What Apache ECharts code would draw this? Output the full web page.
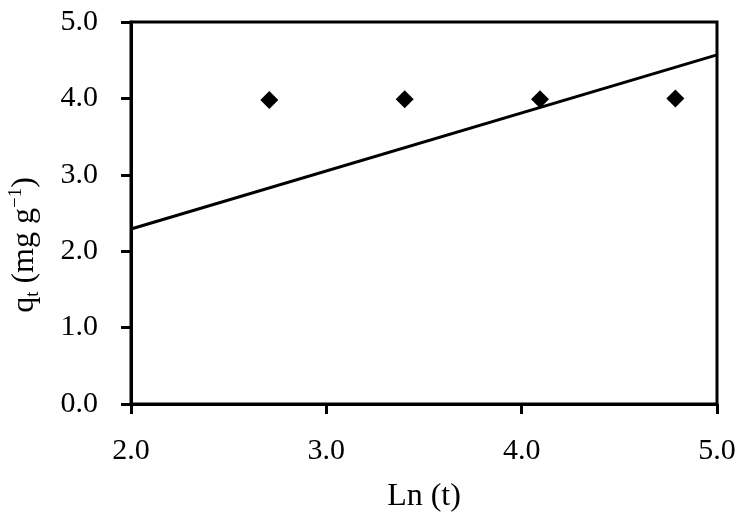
<!DOCTYPE html>
<html><head><meta charset="utf-8">
<script src="https://cdn.jsdelivr.net/npm/echarts@6/dist/echarts.min.js"></script>
<style>html,body{margin:0;padding:0;background:#fff}#c{width:744px;height:519px}</style>
</head><body><div id="c"></div>
<script>
var lnT = [2.708, 3.401, 4.094, 4.787];
var qt = [3.98, 3.99, 3.99, 4.00];
var fitX = [2.0, 5.0];
var fitY = [2.29, 4.57];

var chart = echarts.init(document.getElementById('c'));
var ff = '"Liberation Serif","DejaVu Serif",serif';
chart.setOption({
  animation: false,
  backgroundColor: '#fff',
  grid: {left: 131, right: 27, top: 22, bottom: 115, show: true, borderColor: '#000', borderWidth: 3,
         containLabel: false, outerBoundsMode: 'none'},
  xAxis: {
    type: 'value', min: 2, max: 5, interval: 1,
    name: 'Ln (t)', nameLocation: 'middle', nameGap: 77,
    nameTextStyle: {fontFamily: ff, fontSize: 32, color: '#000'},
    axisLine: {lineStyle: {color: '#000', width: 3}},
    axisTick: {show: true, length: 10, lineStyle: {color: '#000', width: 3}},
    axisLabel: {fontFamily: ff, fontSize: 30, color: '#000', margin: 32, formatter: function(v){return v.toFixed(1);}},
    splitLine: {show: false}
  },
  yAxis: {
    type: 'value', min: 0, max: 5, interval: 1,
    name: 'q{sub|t} (mg g{sup|−1})', nameLocation: 'middle', nameGap: 88, nameRotate: 90,
    nameTextStyle: {fontFamily: ff, fontSize: 32, color: '#000', lineHeight: 36, padding: [0, 64, 0, 0],
      rich: {sub: {fontFamily: ff, fontSize: 19, color: '#000', verticalAlign: 'bottom', lineHeight: 36},
             sup: {fontFamily: ff, fontSize: 19, color: '#000', verticalAlign: 'top', lineHeight: 36}}},
    axisLine: {show: true, lineStyle: {color: '#000', width: 3}},
    axisTick: {show: true, length: 10, lineStyle: {color: '#000', width: 3}},
    axisLabel: {fontFamily: ff, fontSize: 30, color: '#000', margin: 33, formatter: function(v){return v.toFixed(1);}},
    splitLine: {show: false}
  },
  series: [
    {type: 'line', data: fitX.map(function(x,i){return [x, fitY[i]];}), showSymbol: false, symbol: 'none',
     lineStyle: {color: '#000', width: 3}, z: 2},
    {type: 'scatter', data: lnT.map(function(x,i){return [x, qt[i]];}), symbol: 'diamond', symbolSize: 18,
     itemStyle: {color: '#000', opacity: 1}, z: 3}
  ]
});
</script></body></html>
